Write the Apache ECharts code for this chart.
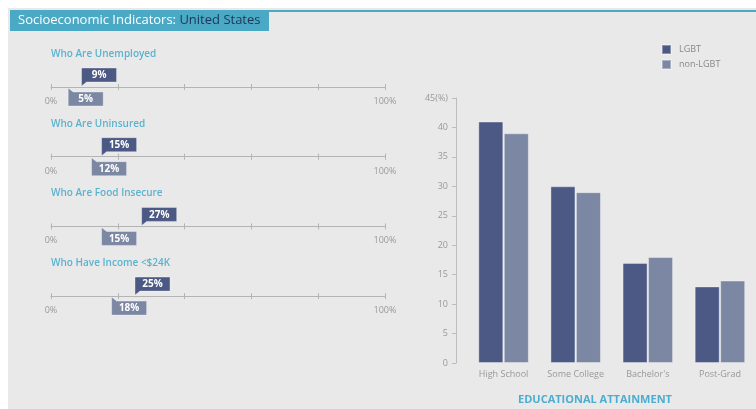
<!DOCTYPE html>
<html><head><meta charset="utf-8">
<script src="https://cdn.jsdelivr.net/npm/echarts@6/dist/echarts.min.js"></script>
<style>
html,body{margin:0;padding:0;background:#fff;}
#wrap{position:relative;width:756px;height:409px;overflow:hidden;}
#panel{position:absolute;left:8px;top:8px;width:748px;height:401px;background:#e9e9e9;}
#chart{position:absolute;left:0;top:0;width:756px;height:409px;}
</style></head><body>
<div id="wrap"><div id="panel"></div><div id="chart"></div></div>
<script>
// ---- data ----
const titleMain = 'Socioeconomic Indicators: ';
const titleRegion = 'United States';
const indicatorLabels = ['Who Are Unemployed', 'Who Are Uninsured', 'Who Are Food Insecure', 'Who Have Income <$24K'];
const indicatorLGBT = [9, 15, 27, 25];
const indicatorNonLGBT = [5, 12, 15, 18];
const indicatorTickLabels = ['0%', '100%'];
const educationCategories = ['High School', 'Some College', "Bachelor's", 'Post-Grad'];
const educationLGBT = [41, 30, 17, 13];
const educationNonLGBT = [39, 29, 18, 14];
const seriesNames = ['LGBT', 'non-LGBT'];
const educationAxisTop = '45(%)';
const educationTitle = 'EDUCATIONAL ATTAINMENT';

// ---- styles ----
const C_DARK = '#4b5984';
const C_LIGHT = '#7b87a3';
const C_TEAL = '#4aa9c5';
const C_LABEL = '#5ab3ce';
const C_AXIS = '#b4b4b4';
const C_TEXT = '#999';
const FONT = '"Open Sans", sans-serif';

const chart = echarts.init(document.getElementById('chart'));

const grids = [], xAxes = [], yAxes = [], series = [], graphics = [];
const axisY0 = 87, rowStep = 69.7;

function callout(dir, color) {
  return function (params, api) {
    const v = api.value(0);
    const p = api.coord([v, 0]);
    const x = p[0] + 0.5, y = p[1];
    const w = 35, h = 14, g = 5;
    let pts, ty;
    if (dir > 0) {
      pts = [[x, y - 1], [x, y - g - h], [x + w, y - g - h], [x + w, y - g], [x + 5, y - g]];
      ty = y - g - h / 2;
    } else {
      pts = [[x, y + 1], [x + 5, y + g], [x + w, y + g], [x + w, y + g + h], [x, y + g + h]];
      ty = y + g + h / 2;
    }
    return {
      type: 'group', children: [
        { type: 'polygon', shape: { points: pts }, style: { fill: color, stroke: 'rgba(255,255,255,0.35)', lineWidth: 1 } },
        { type: 'text', style: { x: x + w / 2, y: ty + 0.5, text: v + '%', fill: '#fff', font: 'bold 10px ' + FONT, align: 'center', verticalAlign: 'middle' } }
      ]
    };
  };
}

indicatorLabels.forEach((lab, i) => {
  const ay = axisY0 + rowStep * i;
  grids.push({ left: 51, width: 334, top: ay - 3, height: 6 });
  xAxes.push({
    type: 'value', gridIndex: i, min: 0, max: 100, interval: 20,
    axisLine: { onZero: true, lineStyle: { color: C_AXIS, width: 1 } },
    axisTick: { show: false },
    splitLine: { show: true, lineStyle: { color: C_AXIS, width: 1 } },
    axisLabel: {
      color: C_TEXT, fontSize: 9, fontFamily: FONT, margin: 7,
      formatter: v => v === 0 ? indicatorTickLabels[0] : (v === 100 ? indicatorTickLabels[1] : '')
    }
  });
  yAxes.push({ type: 'value', gridIndex: i, min: -1, max: 1, show: false });
  series.push({
    type: 'custom', name: 'ind-nonlgbt-' + i, xAxisIndex: i, yAxisIndex: i, clip: false, z: 3,
    data: [[indicatorNonLGBT[i], 0]], encode: { x: 0, y: 1 },
    renderItem: callout(-1, C_LIGHT), silent: true
  });
  series.push({
    type: 'custom', name: 'ind-lgbt-' + i, xAxisIndex: i, yAxisIndex: i, clip: false, z: 4,
    data: [[indicatorLGBT[i], 0]], encode: { x: 0, y: 1 },
    renderItem: callout(1, C_DARK), silent: true
  });
  graphics.push({
    type: 'text', left: 51, top: ay - 38,
    style: { text: lab, fill: C_LABEL, font: '600 10px ' + FONT }
  });
});

// Education bar chart
const gi = indicatorLabels.length;
grids.push({ left: 467.5, width: 292, top: 98, height: 265 });
xAxes.push({
  type: 'category', gridIndex: gi, data: educationCategories,
  axisLine: { show: false }, axisTick: { show: false },
  axisLabel: { color: C_TEXT, fontSize: 9, fontFamily: FONT, margin: 7, interval: 0, hideOverlap: false }
});
yAxes.push({
  type: 'value', gridIndex: gi, min: 0, max: 45, interval: 5, offset: 11.5,
  axisLine: { show: true, lineStyle: { color: '#bdbdbd' } },
  axisTick: { show: true, length: 4, lineStyle: { color: '#bdbdbd' } },
  splitLine: { show: false },
  axisLabel: { color: C_TEXT, fontSize: 9, fontFamily: FONT, margin: 8, formatter: v => v === 45 ? educationAxisTop : String(v) }
});
series.push({
  type: 'bar', name: seriesNames[0], xAxisIndex: gi, yAxisIndex: gi, data: educationLGBT,
  barWidth: 25, barGap: '2%', itemStyle: { color: C_DARK, borderColor: 'rgba(255,255,255,0.35)', borderWidth: 1 }
});
series.push({
  type: 'bar', name: seriesNames[1], xAxisIndex: gi, yAxisIndex: gi, data: educationNonLGBT,
  barWidth: 25, barGap: '2%', itemStyle: { color: C_LIGHT, borderColor: 'rgba(255,255,255,0.35)', borderWidth: 1 }
});

// title & decorations
graphics.push({ type: 'line', shape: { x1: 10, y1: 11, x2: 756, y2: 11 }, style: { stroke: C_TEAL, lineWidth: 2 }, z: 1 });
graphics.push({ type: 'rect', shape: { x: 10, y: 10, width: 259, height: 21 }, style: { fill: C_TEAL }, z: 2 });
graphics.push({
  type: 'text', x: 18, y: 20.5, z: 3,
  style: {
    text: '{a|' + titleMain + '}{b|' + titleRegion + '}', verticalAlign: 'middle',
    rich: {
      a: { fill: '#ffffff', fontSize: 13, fontFamily: FONT },
      b: { fill: '#1d3657', fontSize: 13, fontFamily: FONT }
    }
  }
});
graphics.push({
  type: 'text', x: 595, y: 400,
  style: { text: educationTitle, fill: '#4badcf', font: 'bold 11px ' + FONT, align: 'center', verticalAlign: 'middle' }
});

chart.setOption({
  animation: false,
  backgroundColor: 'transparent',
  textStyle: { fontFamily: FONT },
  legend: {
    data: seriesNames, orient: 'vertical', left: 656, top: 39, icon: 'rect',
    itemWidth: 9, itemHeight: 9, itemGap: 4, selectedMode: false,
    textStyle: { color: '#888', fontSize: 9, fontFamily: FONT, padding: [0, 0, 0, 3] }
  },
  grid: grids, xAxis: xAxes, yAxis: yAxes, series: series,
  graphic: { elements: graphics }
});
</script></body></html>
